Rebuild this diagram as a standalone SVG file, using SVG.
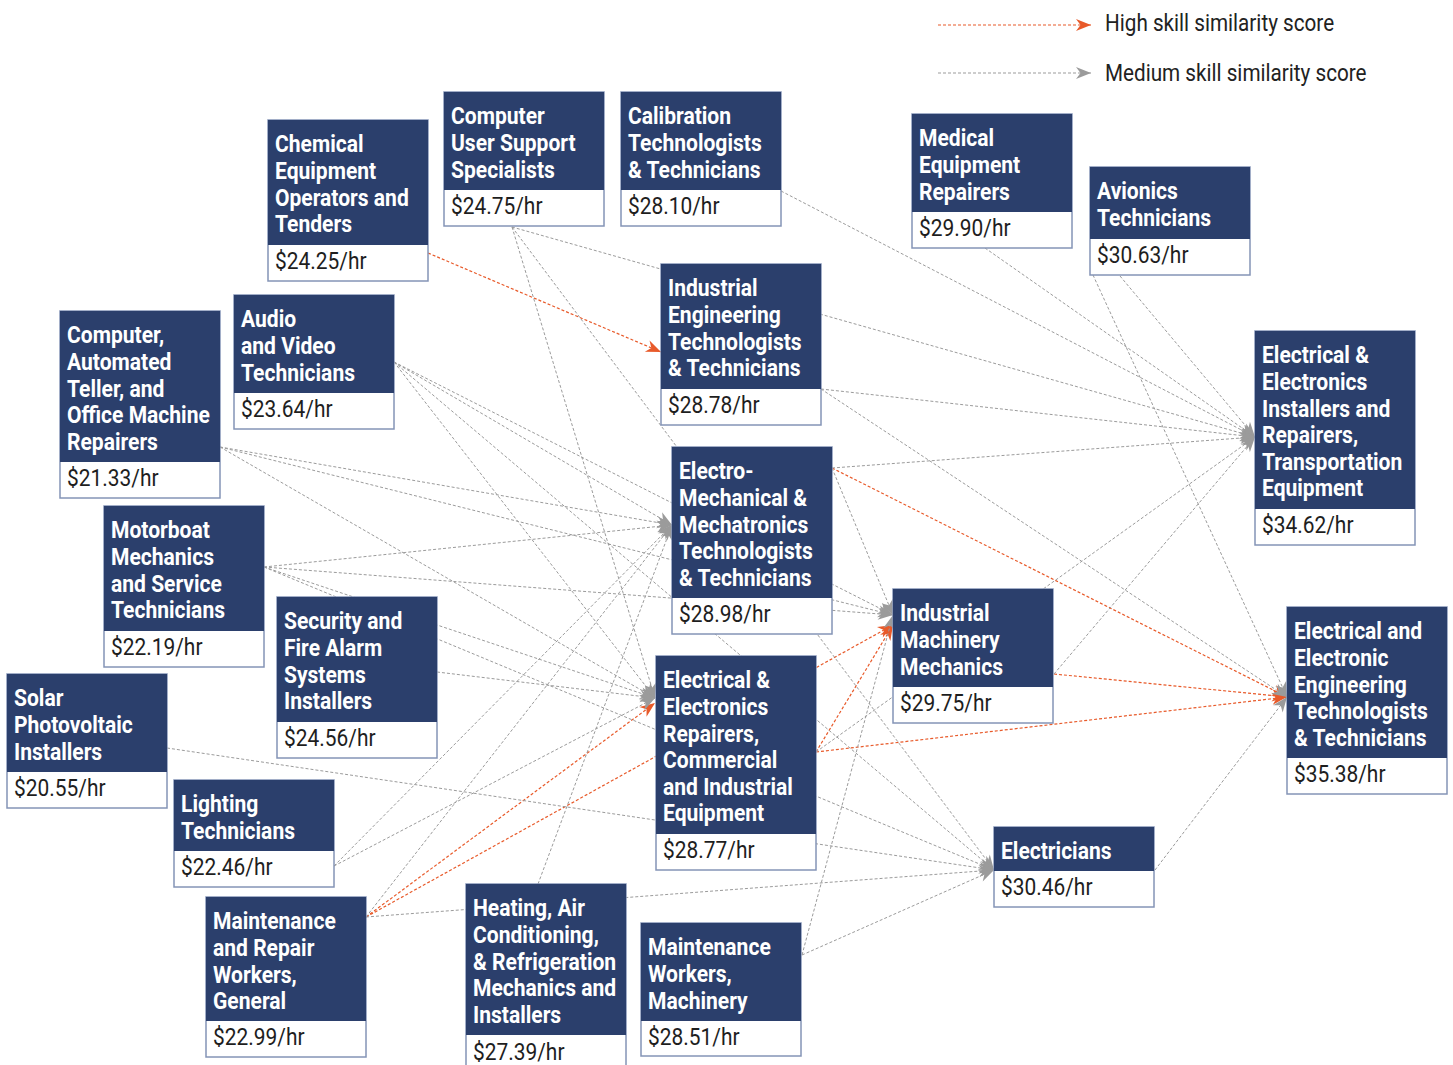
<svg xmlns="http://www.w3.org/2000/svg" width="1453" height="1065" viewBox="0 0 1453 1065">
  <style>
    .hd { fill: #2b3f6c; }
    .bx { fill: #ffffff; stroke: #8494b6; stroke-width: 1.5; }
    .t  { font-family: Roboto, "Liberation Sans", sans-serif; font-weight: 700; font-size: 24.5px; fill: #ffffff;
          transform-box: fill-box; transform-origin: left center; transform: scaleX(0.86); }
    .p  { font-family: Roboto, "Liberation Sans", sans-serif; font-weight: 400; font-size: 23.5px; fill: #1e1e1e;
          transform-box: fill-box; transform-origin: left center; transform: scaleX(0.89); }
    .lg { font-family: Roboto, "Liberation Sans", sans-serif; font-weight: 400; font-size: 23.5px; fill: #222222;
          transform-box: fill-box; transform-origin: left center; transform: scaleX(0.88); }
    .m  { fill: none; stroke: #9b9b9b; stroke-width: 1; stroke-dasharray: 3 2; marker-end: url(#am); }
    .h  { fill: none; stroke: #e85a2a; stroke-width: 1.2; stroke-dasharray: 3 2; marker-end: url(#ah); }
  </style>
  <defs>
    <marker id="am" viewBox="-16 -7 17 14" refX="0" refY="0" markerWidth="17" markerHeight="14" markerUnits="userSpaceOnUse" orient="auto">
      <path d="M0,0 L-15,-6 L-10.5,0 L-15,6 Z" fill="#9b9b9b"/>
    </marker>
    <marker id="ah" viewBox="-16 -7 17 14" refX="0" refY="0" markerWidth="17" markerHeight="14" markerUnits="userSpaceOnUse" orient="auto">
      <path d="M0,0 L-15,-6 L-10.5,0 L-15,6 Z" fill="#e85a2a"/>
    </marker>
  </defs>

  <!-- legend -->
  <g id="legend">
    <path class="h" d="M938,25 L1091,25"/>
    <text class="lg" x="1105" y="31.5">High skill similarity score</text>
    <path class="m" d="M938,73 L1091,73"/>
    <text class="lg" x="1105" y="81.5">Medium skill similarity score</text>
  </g>

  <!-- connectors (drawn beneath the boxes) -->
  <g id="connectors">
    <!-- high similarity -->
    <path class="h" d="M428,253 L661,352"/>
    <path class="h" d="M832,468 L1287,697"/>
    <path class="h" d="M1054,674 L1287,697"/>
    <path class="h" d="M816,752 L1287,697"/>
    <path class="h" d="M816,752 L893,625"/>
    <path class="h" d="M366,917 L655,703"/>
    <path class="h" d="M366,917 L893,625"/>
    <!-- medium similarity -->
    <path class="m" d="M512,227 L1255,437"/>
    <path class="m" d="M512,227 L655,698"/>
    <path class="m" d="M512,227 L994,870"/>
    <path class="m" d="M781,191 L1255,437"/>
    <path class="m" d="M985,248 L1255,437"/>
    <path class="m" d="M1120,276 L1255,437"/>
    <path class="m" d="M1093,275 L1287,697"/>
    <path class="m" d="M821,389 L1255,437"/>
    <path class="m" d="M821,389 L1287,697"/>
    <path class="m" d="M832,468 L1255,437"/>
    <path class="m" d="M832,468 L893,615"/>
    <path class="m" d="M1054,674 L1255,437"/>
    <path class="m" d="M816,752 L1255,437"/>
    <path class="m" d="M1155,870 L1287,697"/>
    <path class="m" d="M220,447 L672,525"/>
    <path class="m" d="M220,447 L893,615"/>
    <path class="m" d="M220,447 L655,698"/>
    <path class="m" d="M394,362 L672,525"/>
    <path class="m" d="M394,362 L893,615"/>
    <path class="m" d="M394,362 L655,698"/>
    <path class="m" d="M394,362 L994,870"/>
    <path class="m" d="M264,567 L672,525"/>
    <path class="m" d="M264,567 L893,615"/>
    <path class="m" d="M264,567 L655,698"/>
    <path class="m" d="M264,567 L994,870"/>
    <path class="m" d="M437,672 L655,698"/>
    <path class="m" d="M167,748 L994,870"/>
    <path class="m" d="M334,866 L672,525"/>
    <path class="m" d="M334,866 L655,698"/>
    <path class="m" d="M366,917 L672,525"/>
    <path class="m" d="M366,917 L994,870"/>
    <path class="m" d="M538,884 L672,525"/>
    <path class="m" d="M802,955 L994,870"/>
    <path class="m" d="M802,955 L893,615"/>
  </g>

  <!-- occupation boxes: navy title block over a white wage block -->
  <g id="chemical">
    <rect class="bx" x="268" y="120" width="160" height="161"/>
    <rect class="hd" x="268" y="120" width="160" height="125"/>
    <text class="t" x="275" y="152.5">Chemical</text>
    <text class="t" x="275" y="179.1">Equipment</text>
    <text class="t" x="275" y="205.7">Operators and</text>
    <text class="t" x="275" y="232.3">Tenders</text>
    <text class="p" x="275" y="269.5">$24.25/hr</text>
  </g>
  <g id="computer-user-support">
    <rect class="bx" x="444" y="92" width="160" height="134"/>
    <rect class="hd" x="444" y="92" width="160" height="98"/>
    <text class="t" x="451" y="124.5">Computer</text>
    <text class="t" x="451" y="151.1">User Support</text>
    <text class="t" x="451" y="177.7">Specialists</text>
    <text class="p" x="451" y="214.5">$24.75/hr</text>
  </g>
  <g id="calibration">
    <rect class="bx" x="621" y="92" width="160" height="134"/>
    <rect class="hd" x="621" y="92" width="160" height="98"/>
    <text class="t" x="628" y="124.5">Calibration</text>
    <text class="t" x="628" y="151.1">Technologists</text>
    <text class="t" x="628" y="177.7">&amp; Technicians</text>
    <text class="p" x="628" y="214.5">$28.10/hr</text>
  </g>
  <g id="medical-equipment">
    <rect class="bx" x="912" y="114" width="160" height="134"/>
    <rect class="hd" x="912" y="114" width="160" height="98"/>
    <text class="t" x="919" y="146.5">Medical</text>
    <text class="t" x="919" y="173.1">Equipment</text>
    <text class="t" x="919" y="199.7">Repairers</text>
    <text class="p" x="919" y="236.5">$29.90/hr</text>
  </g>
  <g id="avionics">
    <rect class="bx" x="1090" y="167" width="160" height="108"/>
    <rect class="hd" x="1090" y="167" width="160" height="72"/>
    <text class="t" x="1097" y="199.5">Avionics</text>
    <text class="t" x="1097" y="226.1">Technicians</text>
    <text class="p" x="1097" y="263.3">$30.63/hr</text>
  </g>
  <g id="industrial-engineering">
    <rect class="bx" x="661" y="264" width="160" height="161"/>
    <rect class="hd" x="661" y="264" width="160" height="125"/>
    <text class="t" x="668" y="296.5">Industrial</text>
    <text class="t" x="668" y="323.1">Engineering</text>
    <text class="t" x="668" y="349.7">Technologists</text>
    <text class="t" x="668" y="376.3">&amp; Technicians</text>
    <text class="p" x="668" y="413.5">$28.78/hr</text>
  </g>
  <g id="installers-transportation">
    <rect class="bx" x="1255" y="331" width="160" height="214"/>
    <rect class="hd" x="1255" y="331" width="160" height="178"/>
    <text class="t" x="1262" y="363.5">Electrical &amp;</text>
    <text class="t" x="1262" y="390.1">Electronics</text>
    <text class="t" x="1262" y="416.7">Installers and</text>
    <text class="t" x="1262" y="443.3">Repairers,</text>
    <text class="t" x="1262" y="469.9">Transportation</text>
    <text class="t" x="1262" y="496.5">Equipment</text>
    <text class="p" x="1262" y="533.5">$34.62/hr</text>
  </g>
  <g id="computer-atm-office">
    <rect class="bx" x="60" y="311" width="160" height="187"/>
    <rect class="hd" x="60" y="311" width="160" height="151"/>
    <text class="t" x="67" y="343.5">Computer,</text>
    <text class="t" x="67" y="370.1">Automated</text>
    <text class="t" x="67" y="396.7">Teller, and</text>
    <text class="t" x="67" y="423.3">Office Machine</text>
    <text class="t" x="67" y="449.9">Repairers</text>
    <text class="p" x="67" y="486.5">$21.33/hr</text>
  </g>
  <g id="audio-video">
    <rect class="bx" x="234" y="295" width="160" height="134"/>
    <rect class="hd" x="234" y="295" width="160" height="98"/>
    <text class="t" x="241" y="327.5">Audio</text>
    <text class="t" x="241" y="354.1">and Video</text>
    <text class="t" x="241" y="380.7">Technicians</text>
    <text class="p" x="241" y="417.5">$23.64/hr</text>
  </g>
  <g id="electro-mechanical">
    <rect class="bx" x="672" y="447" width="160" height="187"/>
    <rect class="hd" x="672" y="447" width="160" height="151"/>
    <text class="t" x="679" y="479.5">Electro-</text>
    <text class="t" x="679" y="506.1">Mechanical &amp;</text>
    <text class="t" x="679" y="532.7">Mechatronics</text>
    <text class="t" x="679" y="559.3">Technologists</text>
    <text class="t" x="679" y="585.9">&amp; Technicians</text>
    <text class="p" x="679" y="622.5">$28.98/hr</text>
  </g>
  <g id="motorboat">
    <rect class="bx" x="104" y="506" width="160" height="161"/>
    <rect class="hd" x="104" y="506" width="160" height="125"/>
    <text class="t" x="111" y="538.5">Motorboat</text>
    <text class="t" x="111" y="565.1">Mechanics</text>
    <text class="t" x="111" y="591.7">and Service</text>
    <text class="t" x="111" y="618.3">Technicians</text>
    <text class="p" x="111" y="655.5">$22.19/hr</text>
  </g>
  <g id="security-fire-alarm">
    <rect class="bx" x="277" y="597" width="160" height="161"/>
    <rect class="hd" x="277" y="597" width="160" height="125"/>
    <text class="t" x="284" y="629.5">Security and</text>
    <text class="t" x="284" y="656.1">Fire Alarm</text>
    <text class="t" x="284" y="682.7">Systems</text>
    <text class="t" x="284" y="709.3">Installers</text>
    <text class="p" x="284" y="746.5">$24.56/hr</text>
  </g>
  <g id="industrial-machinery">
    <rect class="bx" x="893" y="589" width="160" height="134"/>
    <rect class="hd" x="893" y="589" width="160" height="98"/>
    <text class="t" x="900" y="621.5">Industrial</text>
    <text class="t" x="900" y="648.1">Machinery</text>
    <text class="t" x="900" y="674.7">Mechanics</text>
    <text class="p" x="900" y="711.5">$29.75/hr</text>
  </g>
  <g id="engineering-technologists">
    <rect class="bx" x="1287" y="607" width="160" height="187"/>
    <rect class="hd" x="1287" y="607" width="160" height="151"/>
    <text class="t" x="1294" y="639.5">Electrical and</text>
    <text class="t" x="1294" y="666.1">Electronic</text>
    <text class="t" x="1294" y="692.7">Engineering</text>
    <text class="t" x="1294" y="719.3">Technologists</text>
    <text class="t" x="1294" y="745.9">&amp; Technicians</text>
    <text class="p" x="1294" y="782.5">$35.38/hr</text>
  </g>
  <g id="solar-pv">
    <rect class="bx" x="7" y="674" width="160" height="134"/>
    <rect class="hd" x="7" y="674" width="160" height="98"/>
    <text class="t" x="14" y="706.5">Solar</text>
    <text class="t" x="14" y="733.1">Photovoltaic</text>
    <text class="t" x="14" y="759.7">Installers</text>
    <text class="p" x="14" y="796.5">$20.55/hr</text>
  </g>
  <g id="repairers-commercial">
    <rect class="bx" x="656" y="656" width="160" height="214"/>
    <rect class="hd" x="656" y="656" width="160" height="178"/>
    <text class="t" x="663" y="688.5">Electrical &amp;</text>
    <text class="t" x="663" y="715.1">Electronics</text>
    <text class="t" x="663" y="741.7">Repairers,</text>
    <text class="t" x="663" y="768.3">Commercial</text>
    <text class="t" x="663" y="794.9">and Industrial</text>
    <text class="t" x="663" y="821.5">Equipment</text>
    <text class="p" x="663" y="858.5">$28.77/hr</text>
  </g>
  <g id="lighting">
    <rect class="bx" x="174" y="780" width="160" height="107"/>
    <rect class="hd" x="174" y="780" width="160" height="71"/>
    <text class="t" x="181" y="812.5">Lighting</text>
    <text class="t" x="181" y="839.1">Technicians</text>
    <text class="p" x="181" y="875.5">$22.46/hr</text>
  </g>
  <g id="electricians">
    <rect class="bx" x="994" y="827" width="160" height="80"/>
    <rect class="hd" x="994" y="827" width="160" height="44"/>
    <text class="t" x="1001" y="859.5">Electricians</text>
    <text class="p" x="1001" y="895.5">$30.46/hr</text>
  </g>
  <g id="maintenance-repair-general">
    <rect class="bx" x="206" y="897" width="160" height="160"/>
    <rect class="hd" x="206" y="897" width="160" height="124"/>
    <text class="t" x="213" y="929.5">Maintenance</text>
    <text class="t" x="213" y="956.1">and Repair</text>
    <text class="t" x="213" y="982.7">Workers,</text>
    <text class="t" x="213" y="1009.3">General</text>
    <text class="p" x="213" y="1045.5">$22.99/hr</text>
  </g>
  <g id="hvac-r">
    <rect class="bx" x="466" y="884" width="160" height="190"/>
    <rect class="hd" x="466" y="884" width="160" height="151"/>
    <text class="t" x="473" y="916.5">Heating, Air</text>
    <text class="t" x="473" y="943.1">Conditioning,</text>
    <text class="t" x="473" y="969.7">&amp; Refrigeration</text>
    <text class="t" x="473" y="996.3">Mechanics and</text>
    <text class="t" x="473" y="1022.9">Installers</text>
    <text class="p" x="473" y="1060">$27.39/hr</text>
  </g>
  <g id="maintenance-machinery">
    <rect class="bx" x="641" y="923" width="160" height="133"/>
    <rect class="hd" x="641" y="923" width="160" height="98"/>
    <text class="t" x="648" y="955.5">Maintenance</text>
    <text class="t" x="648" y="982.1">Workers,</text>
    <text class="t" x="648" y="1008.7">Machinery</text>
    <text class="p" x="648" y="1045">$28.51/hr</text>
  </g>
</svg>
